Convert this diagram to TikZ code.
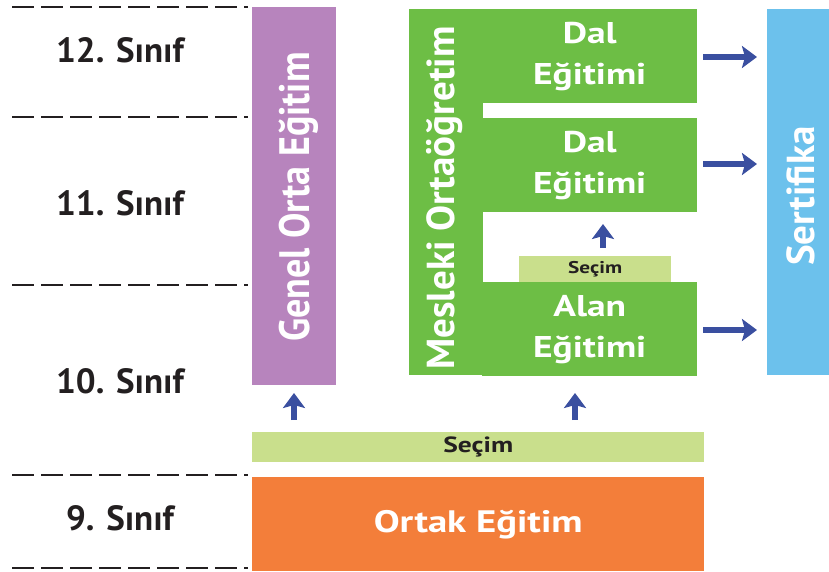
\documentclass[tikz,border=0pt]{standalone}
\usepackage{fontspec}
\setmainfont{PT Sans}
\newfontfamily\genis[FakeStretch=1.25]{PT Sans}
\usetikzlibrary{arrows.meta, positioning}
\definecolor{genelmor}{HTML}{B784BD}
\definecolor{meslekyesil}{HTML}{6DBE45}
\definecolor{secimyesil}{HTML}{C9DF8C}
\definecolor{ortakturuncu}{HTML}{F37E3A}
\definecolor{sertmavi}{HTML}{6CC1EC}
\definecolor{okmavi}{HTML}{3A4FA0}
\definecolor{cizgi}{HTML}{231F20}
\tikzset{
every node/.style={inner sep=0pt, font=\bfseries}, % no padding, bold text
kutu/.style 2 args={anchor=north west, minimum width=#1, minimum height=#2}, % box from its top left corner
yazi/.style={text=white, align=center}, % white text on a coloured box
dalyazi/.style={yazi, font=\genis\bfseries\fontsize{30}{41}\selectfont}, % two-line box text
dikyazi/.style={yazi, rotate=90, font=\bfseries\fontsize{#1}{#1}\selectfont}, % upright running text
sinif/.style={text=cizgi, font=\bfseries\fontsize{35}{37}\selectfont}, % grade labels
ayrac/.style={cizgi, line width=1.4pt, dash pattern=on 22pt off 7pt}, % dashed separators
ok/.style={okmavi, line width=6pt, -{Stealth[length=15pt, width=22pt, inset=3pt]}}, % thick blue arrows
}

\begin{document}
\begin{tikzpicture}[x=1pt, y=-1pt]
  \useasboundingbox (0,0) rectangle (829,572);

  % grade rows
  \foreach \yy in {7,117,285,475,568}
    \draw[ayrac] (12,\yy) -- (248,\yy);
  \node[sinif] (s12) at (120,50) {12. Sınıf};
  \node[sinif] (s11) at (120,203) {11. Sınıf};
  \node[sinif] (s10) at (120,381) {10. Sınıf};
  \node[sinif] (s9) at (120,518) {9. Sınıf};

  % general track
  \node[kutu={84pt}{378pt}, fill=genelmor] (genel) at (252,7) {};
  \node[dikyazi=38, yscale=1.12] (genelyazi) at (299,197) {Genel Orta Eğitim};

  % vocational track
  \node[kutu={74pt}{366pt}, fill=meslekyesil] (meslek) at (409,9) {};
  \node[dikyazi=39] (meslekyazi) at (445,198) {Mesleki Ortaöğretim};
  \node[kutu={215pt}{94pt}, fill=meslekyesil, dalyazi] (dal12) at (482,9) {Dal\\Eğitimi};
  \node[kutu={215pt}{94pt}, fill=meslekyesil, dalyazi] (dal11) at (482,118) {Dal\\Eğitimi};
  \node[kutu={215pt}{94pt}, fill=meslekyesil, dalyazi] (alan) at (482,282) {Alan\\Eğitimi};
  \node[kutu={152pt}{26pt}, fill=secimyesil, text=cizgi, font=\genis\bfseries\fontsize{17}{19}\selectfont] (secimk) at (519,256) {Seçim};

  % common part
  \node[kutu={452pt}{30pt}, fill=secimyesil, text=cizgi, font=\genis\bfseries\fontsize{22}{24}\selectfont] (secim) at (252,432) {Seçim};
  \node[kutu={452pt}{94pt}, fill=ortakturuncu, yazi, font=\genis\bfseries\fontsize{31}{33}\selectfont] (ortak) at (252,477) {Ortak Eğitim};

  % certificate
  \node[kutu={62pt}{366pt}, fill=sertmavi] (sert) at (767,9) {};
  \node[dikyazi=39] (sertyazi) at (801,196) {Sertifika};

  % arrows
  \coordinate (g0) at (294,420);
  \coordinate (g1) at (294,393);
  \coordinate (m0) at (575,420);
  \coordinate (m1) at (575,393);
  \coordinate (d0) at (603,248);
  \coordinate (d1) at (603,224);
  \draw[ok] (g0) -- (g1);
  \draw[ok] (m0) -- (m1);
  \draw[ok] (d0) -- (d1);
  \foreach \yy [count=\i] in {57,164,330}
  {
    \coordinate (r\i) at (703,\yy);
    \coordinate (t\i) at (757,\yy);
    \draw[ok] (r\i) -- (t\i);
  }
\end{tikzpicture}
\end{document}
